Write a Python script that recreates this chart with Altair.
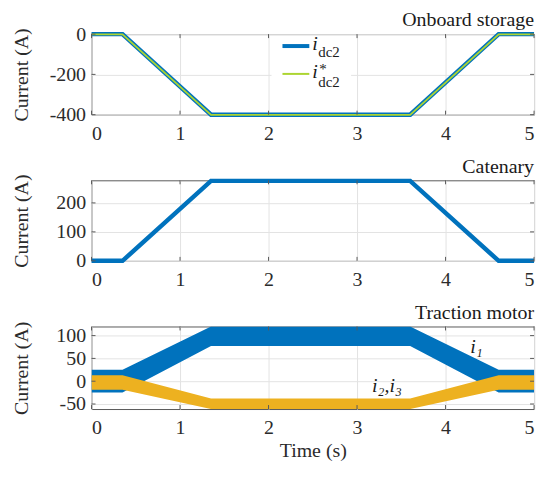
import altair as alt
import pandas as pd

FONT = "Liberation Serif"
BLUE = "#0072BD"
GREEN = "#acd531"
ORANGE = "#EDB120"
FRAME = "#5a5a5a"
GRID = "#e3e3e3"
TXT = "#2b2b2b"

# ---- data ----
t_knots = [0, 0.35, 1.35, 3.6, 4.6, 5]
i_dc2 = [0, 0, -400, -400, 0, 0]
i_dc2_ref = [-1, -1, -401, -401, -1, -1]
i_cat = [0, 0, 276, 276, 0, 0]
i1_lo = [-25, -25, 77, 77, -25, -25]
i1_hi = [25, 25, 120, 120, 25, 25]
i23_lo = [-19, -19, -61, -61, -19, -19]
i23_hi = [13, 13, -38, -38, 13, 13]

x_ticks = [0, 1, 2, 3, 4, 5]
y1_ticks = [-400, -200, 0]
y2_ticks = [0, 100, 200]
y3_ticks = [-50, 0, 50, 100]
y1_dom = [-400, 0]
y2_dom = [0, 278]
y3_dom = [-61, 120]

lab_t = [4.28, 3.17]
lab_v = [62, -24]
lab_txt = ["i\u2081", "i\u2082,i\u2083"]

W = 445
H1, H2, H3 = 81, 81, 83
TK = 4


def x_enc(show_title):
    kw = dict(values=x_ticks, labelExpr="'' + datum.value", labelPadding=9, titlePadding=3,
              labelFont=FONT, labelFontSize=20, titleFont=FONT, titleFontSize=20)
    kw["title"] = "Time (s)" if show_title else None
    return alt.X("t:Q", scale=alt.Scale(domain=[0, 5], nice=False, zero=False), axis=alt.Axis(**kw))


def y_enc(field, dom, ticks):
    return alt.Y(f"{field}:Q", scale=alt.Scale(domain=dom, nice=False, zero=False),
                 axis=alt.Axis(values=ticks, labelExpr="'' + datum.value", title="Current (A)",
                               titleX=-60, labelPadding=6, labelFont=FONT, labelFontSize=20,
                               titleFont=FONT, titleFontSize=20))


def tick_layers(dom, ticks, h, show_title):
    xt = pd.DataFrame({"t": x_ticks})
    yt = pd.DataFrame({"v": ticks})
    xe = x_enc(show_title)
    ye = y_enc("v", dom, ticks)
    base_x = alt.Chart(xt).mark_rule(color=FRAME, strokeWidth=1)
    base_y = alt.Chart(yt).mark_rule(color=FRAME, strokeWidth=1)
    return [
        base_x.encode(x=xe, y=alt.value(h), y2=alt.value(h - TK)),
        base_x.encode(x=xe, y=alt.value(0), y2=alt.value(TK)),
        base_y.encode(y=ye, x=alt.value(0), x2=alt.value(TK)),
        base_y.encode(y=ye, x=alt.value(W), x2=alt.value(W - TK)),
    ]


def title_layer(text, dy):
    return alt.Chart(pd.DataFrame({"s": [text]})).mark_text(
        align="right", baseline="alphabetic", font=FONT, fontSize=20, color="#1a1a1a"
    ).encode(x=alt.value(W), y=alt.value(dy), text="s:N")


def txt(s, x, y, size, italic=False):
    kw = dict(align="left", baseline="alphabetic", font=FONT, fontSize=size, color="#1a1a1a")
    if italic:
        kw["fontStyle"] = "italic"
    return alt.Chart(pd.DataFrame({"s": [s]})).mark_text(**kw).encode(
        x=alt.value(x), y=alt.value(y), text="s:N")


one = pd.DataFrame({"a": [0]})

# ---- panel 1: onboard storage ----
d1 = pd.DataFrame({"t": t_knots, "v": i_dc2, "r": i_dc2_ref})
p1_layers = [
    alt.Chart(d1).mark_line(color=BLUE, strokeWidth=4.5).encode(x=x_enc(False), y=y_enc("v", y1_dom, y1_ticks)),
    alt.Chart(d1).mark_line(color=GREEN, strokeWidth=1.8).encode(x=x_enc(False), y=y_enc("r", y1_dom, y1_ticks)),
    alt.Chart(one).mark_rect(color="white").encode(x=alt.value(181), x2=alt.value(261), y=alt.value(2), y2=alt.value(58)),
    alt.Chart(one).mark_rule(color=BLUE, strokeWidth=4).encode(x=alt.value(192), x2=alt.value(219), y=alt.value(12)),
    alt.Chart(one).mark_rule(color=GREEN, strokeWidth=2).encode(x=alt.value(192), x2=alt.value(219), y=alt.value(40)),
    txt("i", 222, 16, 20, True),
    txt("dc2", 228, 23, 15),
    txt("i", 222, 44, 20, True),
    txt("*", 229, 40, 15),
    txt("dc2", 228, 53, 15),
    title_layer("Onboard storage", -8),
] + tick_layers(y1_dom, y1_ticks, H1, False)
p1 = alt.layer(*p1_layers).properties(width=W, height=H1)

# ---- panel 2: catenary ----
d2 = pd.DataFrame({"t": t_knots, "v": i_cat})
p2_layers = [
    alt.Chart(d2).mark_line(color=BLUE, strokeWidth=4.5).encode(x=x_enc(False), y=y_enc("v", y2_dom, y2_ticks)),
    title_layer("Catenary", -7),
] + tick_layers(y2_dom, y2_ticks, H2, False)
p2 = alt.layer(*p2_layers).properties(width=W, height=H2)

# ---- panel 3: traction motor ----
d3 = pd.DataFrame({"t": t_knots, "lo1": i1_lo, "hi1": i1_hi, "lo2": i23_lo, "hi2": i23_hi})
dl = pd.DataFrame({"t": lab_t, "v": lab_v, "s": lab_txt})
p3_layers = [
    alt.Chart(d3).mark_area(color=BLUE, opacity=1, clip=True).encode(
        x=x_enc(True), y=y_enc("lo1", y3_dom, y3_ticks), y2="hi1:Q"),
    alt.Chart(d3).mark_area(color=ORANGE, opacity=1, clip=True).encode(
        x=x_enc(True), y=y_enc("lo2", y3_dom, y3_ticks), y2="hi2:Q"),
    alt.Chart(dl).mark_text(align="left", baseline="alphabetic", font=FONT, fontSize=20,
                            fontStyle="italic", color="#1a1a1a").encode(
        x=x_enc(True), y=y_enc("v", y3_dom, y3_ticks), text="s:N"),
    title_layer("Traction motor", -8),
] + tick_layers(y3_dom, y3_ticks, H3, True)
p3 = alt.layer(*p3_layers).properties(width=W, height=H3)

chart = alt.vconcat(p1, p2, p3, spacing=66, bounds="flush").properties(
    padding={"left": 3, "top": 0, "right": 0, "bottom": -1}
).configure_view(stroke=FRAME, strokeWidth=1).configure_axis(
    domain=False, ticks=False, grid=True, gridColor=GRID, gridWidth=1,
    labelFont=FONT, labelFontSize=20, labelColor=TXT,
    titleFont=FONT, titleFontSize=20, titleColor=TXT, titleFontWeight="normal"
)

chart.save("out.html", embed_options={"renderer": "svg", "actions": False})
